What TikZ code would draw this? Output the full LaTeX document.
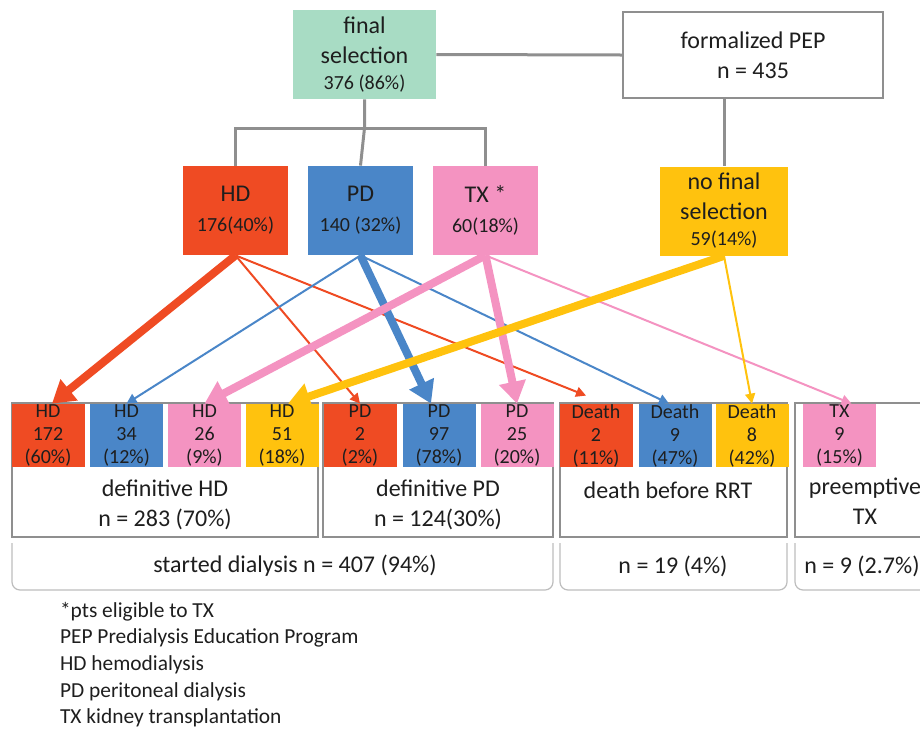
\documentclass[tikz,border=0pt]{standalone}
\usepackage{fontspec}
\setmainfont{Carlito}
\usetikzlibrary{arrows.meta}

\definecolor{selgreen}{HTML}{A8DCC4}
\definecolor{hdred}{HTML}{EF4B23}
\definecolor{pdblue}{HTML}{4A86C8}
\definecolor{txpink}{HTML}{F493C1}
\definecolor{nofyellow}{HTML}{FFC20E}
\definecolor{boxgray}{HTML}{8F8F8F}
\definecolor{bracegray}{HTML}{BDBDBD}
\definecolor{inktext}{HTML}{1E1E1E}

\tikzset{
  topbox/.style={rectangle, align=center, inner sep=0pt, minimum width=52.5pt,
    minimum height=44.5pt, font=\fontsize{12}{15}\selectfont, text=inktext},
  cntbox/.style={rectangle, align=center, inner sep=0pt, minimum width=36.5pt,
    minimum height=31.5pt, font=\fontsize{10}{11.5}\selectfont, text=inktext},
  grpbox/.style={rectangle, draw=boxgray, line width=1.2pt, inner sep=0pt, minimum height=67pt},
  grplabel/.style={align=center, font=\fontsize{12}{15}\selectfont, text=inktext},
  tree/.style={draw=boxgray, line width=1.5pt},
  thin arrow/.style={line width=1pt, -{Triangle[width=5pt,length=5pt]}},
  thick arrow/.style={line width=4pt, -{Triangle[width=13pt,length=11pt]}},
  brace/.style={draw=bracegray, line width=0.6pt, rounded corners=4pt},
  note/.style={anchor=west, font=\fontsize{10.7}{12}\selectfont, text=inktext}
}

\begin{document}
\begin{tikzpicture}[x=0.5pt, y=-0.5pt]
\useasboundingbox (0,0) rectangle (920,729);

% first level
\node[topbox, fill=selgreen, minimum width=71.5pt] (sel) at (364.5,54.5)
  {final\\selection\\[-2pt]{\fontsize{10}{12}\selectfont 376 (86\%)}};
\node[rectangle, draw=boxgray, line width=1.2pt, align=center, minimum width=130pt,
  minimum height=43pt, font=\fontsize{12}{15}\selectfont, text=inktext] (pep) at (753,55)
  {formalized PEP\\n = 435};
\draw[tree] (sel.east) -- (pep.west);

% modality choice
\node[topbox, fill=hdred] (hd) at (235.5,210.5) {HD\\{\fontsize{10}{12}\selectfont 176(40\%)}};
\node[topbox, fill=pdblue] (pd) at (360.5,210.5) {PD\\{\fontsize{10}{12}\selectfont 140 (32\%)}};
\node[topbox, fill=txpink] (tx) at (485.5,210.5) {TX *\\{\fontsize{10}{12}\selectfont 60(18\%)}};
\node[topbox, fill=nofyellow, minimum width=64pt] (nof) at (724,211)
  {no final\\selection\\[-2pt]{\fontsize{10}{12}\selectfont 59(14\%)}};

\coordinate (fork) at (364.5,128);
\draw[tree] (sel.south) -- (fork) -- (pd.north);
\draw[tree] (hd.north) |- (fork) -| (tx.north);
\draw[tree] (nof.north |- pep.south) -- (nof.north);

% outcome groups
\node[grpbox, minimum width=153pt] (gHD) at (165,470) {};
\node[grpbox, minimum width=115pt] (gPD) at (438,470) {};
\node[grpbox, minimum width=113.5pt] (gDe) at (673.5,470) {};
\node[grpbox, minimum width=70pt] (gTX) at (865,470) {};

\node[grplabel] (lHD) at (165,505) {definitive HD\\n = 283 (70\%)};
\node[grplabel] (lPD) at (438,505) {definitive PD\\n = 124(30\%)};
\node[grplabel] (lDe) at (668,490) {death before RRT};
\node[grplabel] (lTX) at (865,501) {preemptive\\TX};

\node[cntbox, fill=hdred] (hd1) at (48,435.5) {HD\\172\\(60\%)};
\node[cntbox, fill=pdblue] (hd2) at (126.5,435.5) {HD\\34\\(12\%)};
\node[cntbox, fill=txpink] (hd3) at (204.5,435.5) {HD\\26\\(9\%)};
\node[cntbox, fill=nofyellow] (hd4) at (282,435.5) {HD\\51\\(18\%)};
\node[cntbox, fill=hdred] (pd1) at (360,435.5) {PD\\2\\(2\%)};
\node[cntbox, fill=pdblue] (pd2) at (439,435.5) {PD\\97\\(78\%)};
\node[cntbox, fill=txpink] (pd3) at (517,435.5) {PD\\25\\(20\%)};
\node[cntbox, fill=hdred] (de1) at (596,435.5) {Death\\2\\(11\%)};
\node[cntbox, fill=pdblue] (de2) at (675,435.5) {Death\\9\\(47\%)};
\node[cntbox, fill=nofyellow] (de3) at (752,435.5) {Death\\8\\(42\%)};
\node[cntbox, fill=txpink] (tx1) at (839.5,435.5) {TX\\9\\(15\%)};

% flows
\draw[thin arrow, hdred] (hd.south) -- (pd1.north);
\draw[thin arrow, hdred] (hd.south) -- ([xshift=-5pt,yshift=4pt]de1.north);
\draw[thick arrow, hdred] (hd.south) -- ([xshift=2pt]hd1.north);
\draw[thin arrow, pdblue] (pd.south) -- (hd2.north);
\draw[thin arrow, pdblue] (pd.south) -- ([xshift=-3pt]de2.north);
\draw[thick arrow, pdblue] (pd.south) -- ([xshift=-4pt]pd2.north);
\draw[thin arrow, txpink] (tx.south) -- ([xshift=6pt]tx1.north);
\draw[thick arrow, txpink] (tx.south) -- (hd3.north);
\draw[thick arrow, txpink] (tx.south) -- (pd3.north);
\draw[thin arrow, nofyellow] (nof.south) -- (de3.north);
\draw[thick arrow, nofyellow] (nof.south) -- ([xshift=3pt]hd4.north);

% totals
\draw[brace] (12,543) -- (12,590) -- (553,590) -- (553,543);
\draw[brace] (560,543) -- (560,590) -- (787,590) -- (787,543);
\draw[brace] (795,543) -- (795,590) -- (940,590);
\node[grplabel] (sDia) at (295,566) {started dialysis n = 407 (94\%)};
\node[grplabel] (sDe) at (673,566) {n = 19 (4\%)};
\node[grplabel] (sTX) at (862,566) {n = 9 (2.7\%)};

% legend
\node[note] (n1) at (53,612) {*pts eligible to TX};
\node[note] (n2) at (53,638) {PEP Predialysis Education Program};
\node[note] (n3) at (53,665) {HD hemodialysis};
\node[note] (n4) at (53,692) {PD peritoneal dialysis};
\node[note] (n5) at (53,718) {TX kidney transplantation};
\end{tikzpicture}
\end{document}
